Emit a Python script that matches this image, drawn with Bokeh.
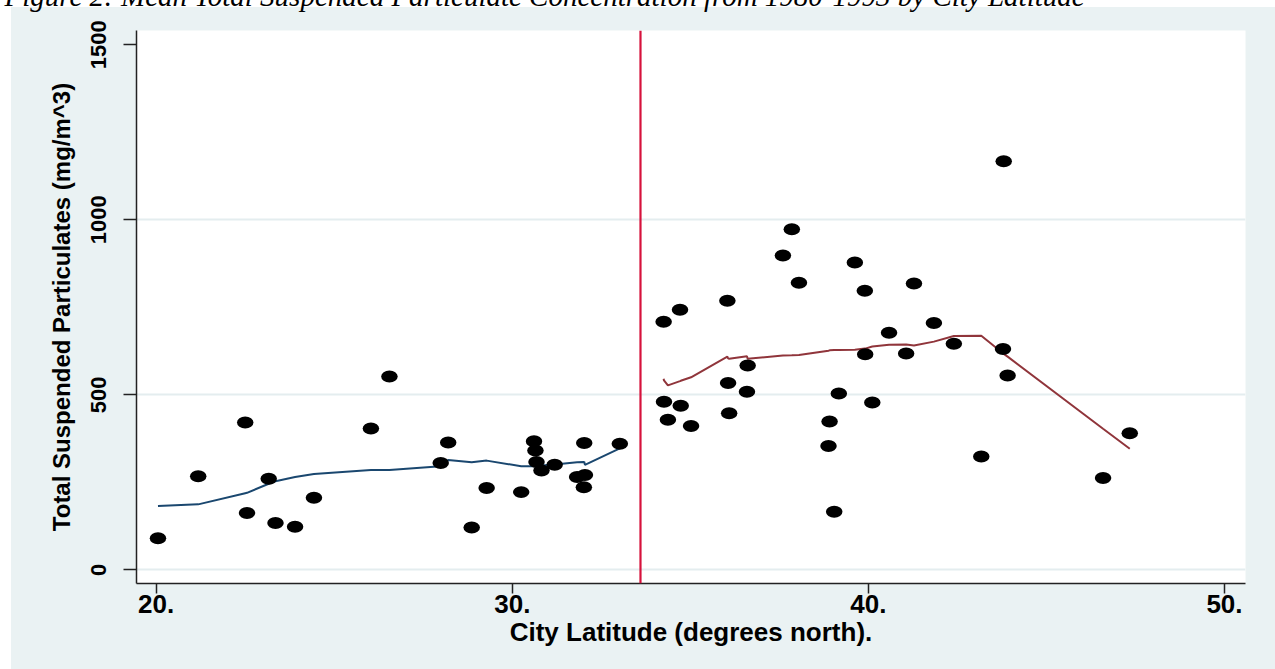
from bokeh.plotting import figure
from bokeh.models import Range1d, Span
from bokeh.embed import file_html
from bokeh.resources import INLINE

# ---------------- data ----------------
title_text = "Figure 2: Mean Total Suspended Particulate Concentration from 1980-1993 by City Latitude"
x_title = "City Latitude (degrees north)."
y_title = "Total Suspended Particulates (mg/m^3)"
x_ticks = [20, 30, 40, 50]
x_tick_labels = ["20.", "30.", "40.", "50."]
y_ticks = [0, 500, 1000, 1500]
y_grid_ticks = [0, 500, 1000]
cutoff_lat = 33.6

# cities south of the cutoff (sorted by latitude)
lat_south = [20.05, 21.18, 22.50, 22.55, 23.16, 23.35, 23.90, 24.43, 26.03, 26.55,
             27.99, 28.20, 28.86, 29.28, 30.25, 30.61, 30.65, 30.68, 30.82, 31.19,
             31.82, 32.01, 32.02, 32.04, 33.02]
tsp_south = [90, 267, 421, 162, 260, 134, 123, 206, 404, 552,
             305, 364, 121, 234, 222, 367, 341, 308, 284, 300,
             265, 236, 362, 271, 360]
fit_south = [182, 187, 219, 220, 246, 253, 265, 274, 285, 285,
             296, 314, 307, 312, 296, 296, 296, 297, 298, 301,
             307, 308, 309, 300, 347]

# cities north of the cutoff (sorted by latitude)
lat_north = [34.25, 34.26, 34.37, 34.71, 34.73, 35.02, 36.04, 36.06, 36.09, 36.59,
             36.61, 37.60, 37.85, 38.05, 38.88, 38.91, 39.04, 39.17, 39.62, 39.90,
             39.91, 40.11, 40.58, 41.06, 41.28, 41.84, 42.40, 43.17, 43.78, 43.80,
             43.91, 46.59, 47.34]
tsp_north = [709, 480, 429, 743, 469, 411, 769, 534, 447, 509,
             584, 898, 973, 820, 354, 424, 166, 504, 878, 797,
             616, 478, 677, 618, 818, 705, 646, 324, 631, 1167,
             555, 262, 390]
fit_north = [546, 541, 527, 539, 540, 550, 609, 604, 603, 610,
             603, 612, 613, 614, 626, 627, 628, 628, 629, 632,
             632, 638, 643, 644, 641, 652, 668, 669, 619, 617,
             609, 403, 346]

# ---------------- layout ----------------
# The canvas is EXTRA px taller than the window and pulled up by EXTRA px,
# so that only the lower part of the caption line shows at the page top.
EXTRA = 60
W, H = 1275, 669 + EXTRA
FL, FR, FT, FB = 136, 1245, 30 + EXTRA, 583 + EXTRA   # frame edges (canvas px)
x_start, x_end = 19.447, 50.590
y_start, y_end = -39.1, 1540.9

BG = "#EAF2F3"
SANS = "Liberation Sans"

page_bg = ("linear-gradient(%s, %s) %dpx %dpx / %dpx %dpx no-repeat, #ffffff"
           % (BG, BG, 11, 7 + EXTRA, W - 11, H - 7 - EXTRA))

p = figure(width=W, height=H, output_backend="svg", toolbar_location=None,
           x_range=Range1d(x_start, x_end), y_range=Range1d(y_start, y_end),
           min_border_left=FL, min_border_right=W - FR,
           min_border_top=FT, min_border_bottom=H - FB,
           styles={"margin-top": "-%dpx" % EXTRA, "background": page_bg})
p.background_fill_color = "white"
p.border_fill_color = None
p.outline_line_color = None

# caption (only its lower part is visible, as in the reference)
p.title.text = title_text
p.title.text_font = "Liberation Serif"
p.title.text_font_style = "italic"
p.title.text_font_size = "29px"
p.title.text_color = "black"
p.title.align = "left"
p.title.vertical_align = "bottom"
p.title.offset = 4 - FL
p.title.standoff = 37

# grid
p.xgrid.visible = False
p.ygrid.ticker = y_grid_ticks
p.ygrid.grid_line_color = "#E4EDEF"
p.ygrid.grid_line_width = 2

# x axis
xa = p.xaxis[0]
xa.ticker = x_ticks
xa.major_label_overrides = {t: l for t, l in zip(x_ticks, x_tick_labels)}
xa.minor_tick_line_color = None
xa.major_tick_in = 0
xa.major_tick_out = 10
xa.major_tick_line_width = 1.5
xa.axis_line_width = 1.5
xa.axis_line_color = "#222222"
xa.major_tick_line_color = "#222222"
xa.major_label_standoff = 1
xa.major_label_text_font = SANS
xa.major_label_text_font_style = "bold"
xa.major_label_text_font_size = "26px"
xa.major_label_text_color = "black"
xa.axis_label = x_title
xa.axis_label_text_font = SANS
xa.axis_label_text_font_style = "bold"
xa.axis_label_text_font_size = "26px"
xa.axis_label_text_color = "black"
xa.axis_label_standoff = 1

# y axis
ya = p.yaxis[0]
ya.ticker = y_ticks
ya.minor_tick_line_color = None
ya.major_tick_in = 0
ya.major_tick_out = 13
ya.major_tick_line_width = 1.5
ya.axis_line_width = 1.5
ya.axis_line_color = "#222222"
ya.major_tick_line_color = "#222222"
ya.major_label_orientation = "vertical"
ya.major_label_standoff = 17
ya.major_label_text_font = SANS
ya.major_label_text_font_style = "bold"
ya.major_label_text_font_size = "22px"
ya.major_label_text_color = "black"
ya.axis_label = y_title
ya.axis_label_text_font = SANS
ya.axis_label_text_font_style = "bold"
ya.axis_label_text_font_size = "24px"
ya.axis_label_text_color = "black"
ya.axis_label_standoff = 14

# lowess fits
p.line(lat_south, fit_south, line_color="#1A476F", line_width=2)
p.line(lat_north, fit_north, line_color="#90353B", line_width=2)

# city markers
p.ellipse(x=lat_south, y=tsp_south, width=16.5, height=12,
          width_units="screen", height_units="screen",
          fill_color="black", line_color=None)
p.ellipse(x=lat_north, y=tsp_north, width=16.5, height=12,
          width_units="screen", height_units="screen",
          fill_color="black", line_color=None)

# cutoff line
p.add_layout(Span(location=cutoff_lat, dimension="height",
                  line_color="#D6123C", line_width=2.2))

open("out.html", "w").write(file_html(p, INLINE))
